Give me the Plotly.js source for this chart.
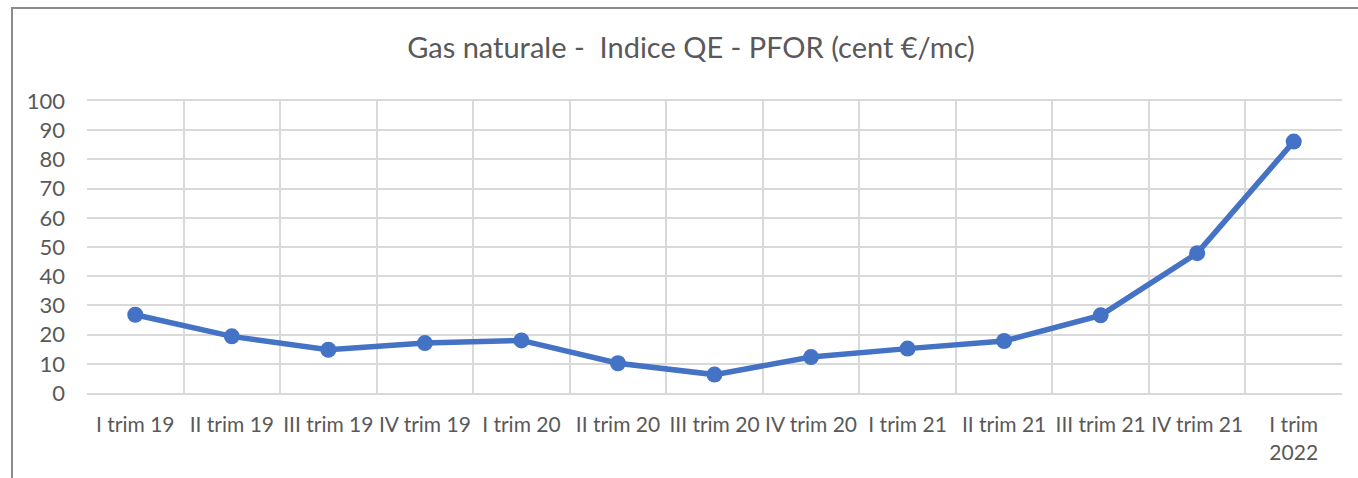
<!DOCTYPE html>
<html>
<head>
<meta charset="utf-8">
<script src="https://cdn.plot.ly/plotly-3.0.1.min.js"></script>
<style>
  html, body { margin: 0; padding: 0; background: #fff; }
  #wrap { position: relative; width: 1358px; height: 478px; overflow: hidden; }
  #frame { position: absolute; left: 11px; top: 7px; width: 1400px; height: 500px;
           border-left: 2px solid #8c8c8c; border-top: 2px solid #8c8c8c; box-sizing: border-box; }
  #chart { position: absolute; left: 0; top: 0; width: 1358px; height: 478px; }
</style>
</head>
<body>
<div id="wrap">
  <div id="chart"></div>
  <div id="frame"></div>
</div>
<script>
const categories = ["I trim 19", "II trim 19", "III trim 19", "IV trim 19", "I trim 20", "II trim 20",
  "III trim 20", "IV trim 20", "I trim 21", "II trim 21", "III trim 21", "IV trim 21", "I trim<br>2022"];
const values = [26.8, 19.4, 14.8, 17.1, 18.0, 10.2, 6.3, 12.3, 15.2, 17.8, 26.6, 47.9, 86.1];
const yTicks = [0, 10, 20, 30, 40, 50, 60, 70, 80, 90, 100];
const chartTitle = "Gas naturale -  Indice QE - PFOR (cent €/mc)";

const FONT = "Lato, 'Open Sans', sans-serif";

Plotly.newPlot("chart", [{
  type: "scatter",
  mode: "lines+markers",
  x: categories,
  y: values,
  line: { color: "#4472C4", width: 5.5 },
  marker: { color: "#4472C4", size: 16 },
  hoverinfo: "x+y"
}], {
  width: 1358,
  height: 478,
  margin: { l: 87, r: 16, t: 101, b: 85 },
  paper_bgcolor: "#ffffff",
  plot_bgcolor: "#ffffff",
  showlegend: false,
  title: {
    text: chartTitle,
    font: { family: FONT, size: 29, color: "#595959" },
    x: 691 / 1358, xanchor: "center",
    y: 1 - 48 / 478, yanchor: "middle"
  },
  xaxis: {
    type: "category",
    range: [-0.5, 12.5],
    tickson: "boundaries",
    showgrid: true,
    gridcolor: "#d9d9d9",
    gridwidth: 2,
    ticks: "",
    showline: true,
    linecolor: "#d9d9d9",
    linewidth: 2,
    mirror: true,
    zeroline: false,
    tickangle: 0,
    ticklabelstandoff: 12,
    tickfont: { family: FONT, size: 21, color: "#595959" }
  },
  yaxis: {
    range: [0, 100],
    tickvals: yTicks,
    ticktext: yTicks.map(String),
    showgrid: true,
    gridcolor: "#d9d9d9",
    gridwidth: 2,
    zeroline: false,
    showline: false,
    ticks: "",
    ticklabelstandoff: 21,
    tickfont: { family: FONT, size: 22, color: "#595959" }
  }
}, { displayModeBar: false, staticPlot: true });
</script>
</body>
</html>
